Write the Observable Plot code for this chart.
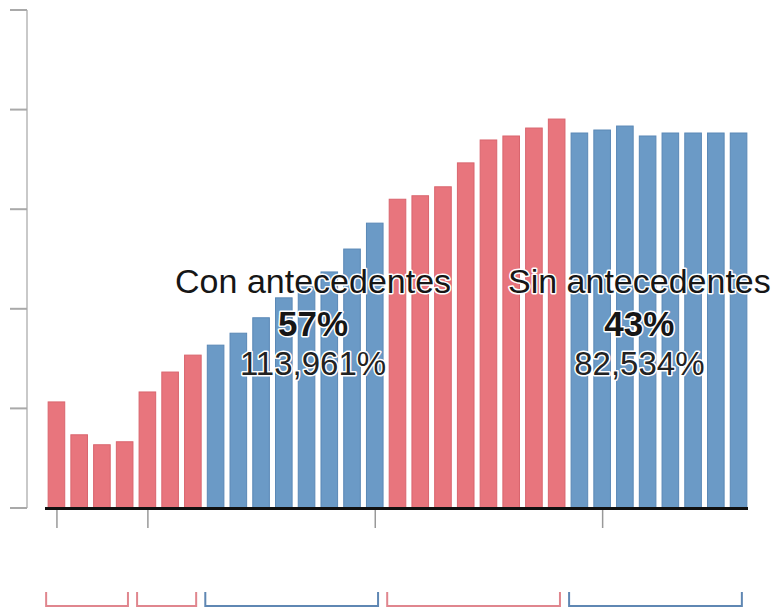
<!DOCTYPE html>
<html>
<head>
<meta charset="utf-8">
<script src="https://cdn.jsdelivr.net/npm/d3@7"></script>
<script src="https://cdn.jsdelivr.net/npm/@observablehq/plot@0.6"></script>
<style>
  html, body { margin: 0; padding: 0; background: #fff; }
  #chart { width: 775px; height: 611px; }
</style>
</head>
<body>
<div id="chart"></div>
<script>
// ---- Data ----
const bars = [1,2,3,4,5,6,7,8,9,10,11,12,13,14,15,16,17,18,19,20,21,22,23,24,25,26,27,28,29,30,31];
const values = [21.3,14.7,12.7,13.3,23.3,27.3,30.7,32.7,35.1,38.2,42.2,44.4,47.4,52.0,57.2,62.0,62.7,64.5,69.3,73.9,74.7,76.3,78.1,75.3,75.9,76.7,74.7,75.3,75.3,75.3,75.3];
const barGroup = [1,1,1,1,2,2,2,3,3,3,3,3,3,3,3,4,4,4,4,4,4,4,4,5,5,5,5,5,5,5,5];
const groupIds = [1,2,3,4,5];
const groupKind = ["con","con","sin","con","sin"];
const groupStart = [1,5,8,16,24];
const groupEnd = [4,7,15,23,31];
const yTicks = [0,20,40,60,80,100];
const xTicks = [1,5,15,25];

const labelBar = [12, 26];
const labelNames = ["Con antecedentes", "Sin antecedentes"];
const labelPct = ["57%", "43%"];
const labelValues = ["113,961%", "82,534%"];

// ---- Styles ----
const fillColor = {con: "#e8757d", sin: "#6b9ac6"};
const strokeColor = {con: "#d9656e", sin: "#5a88b6"};
const bracketColor = {con: "#e0868e", sin: "#5f87b3"};
const labelDx = [6, 14];

const rows = bars.map((b, i) => ({bar: b, value: values[i], kind: groupKind[barGroup[i] - 1]}));
const groups = groupIds.map((g, i) => ({start: groupStart[i], end: groupEnd[i], kind: groupKind[i]}));

// custom y axis: vertical rule left of the frame with ticks
function yAxisMark(index, scales, values, dims) {
  const y = scales.y;
  const x0 = dims.marginLeft - 15;
  const g = d3.create("svg:g");
  g.append("line")
    .attr("x1", x0).attr("x2", x0)
    .attr("y1", y(d3.max(yTicks))).attr("y2", y(0))
    .attr("stroke", "#c9c9c9").attr("stroke-width", 2);
  g.selectAll("line.t").data(yTicks).join("line").attr("class", "t")
    .attr("x1", x0 - 17).attr("x2", x0)
    .attr("y1", d => y(d)).attr("y2", d => y(d))
    .attr("stroke", "#a9a9a9").attr("stroke-width", 2);
  return g.node();
}

// brackets below the axis, one per group
function bracketMark(index, scales, values, dims) {
  const x = scales.x;
  const bw = x.bandwidth ? x.bandwidth() : 16;
  const base = scales.y(0);
  const yTop = base + 84, yBot = base + 98;
  const g = d3.create("svg:g").attr("fill", "none");
  for (const grp of groups) {
    const a = x(grp.start) - 2, b = x(grp.end) + bw - 5;
    g.append("path")
      .attr("d", `M${a},${yTop}V${yBot}H${b}V${yTop}`)
      .attr("stroke", bracketColor[grp.kind]).attr("stroke-width", 2);
  }
  return g.node();
}

const labelMarks = [];
labelBar.forEach((b, i) => {
  const common = {x: () => b, textAnchor: "middle", lineAnchor: "middle", dx: labelDx[i],
    fontFamily: "'Liberation Sans', Arial, sans-serif", fill: "#161616", stroke: "white", strokeWidth: 3};
  labelMarks.push(Plot.text([labelNames[i]], {...common, text: d => d, y: () => 45.4, fontSize: 34}));
  labelMarks.push(Plot.text([labelPct[i]], {...common, text: d => d, y: () => 36.8, fontSize: 35, fontWeight: "bold"}));
  labelMarks.push(Plot.text([labelValues[i]], {...common, text: d => d, y: () => 29.0, fontSize: 33, fill: "#222"}));
});

const chart = Plot.plot({
  width: 775,
  height: 611,
  marginLeft: 42,
  marginRight: 22,
  marginTop: 10,
  marginBottom: 103,
  style: {background: "#fff", overflow: "visible"},
  x: {type: "band", domain: bars, padding: 0.27, round: false, axis: null, label: null},
  y: {domain: [0, 100], axis: null},
  marks: [
    Plot.barY(rows, {
      x: "bar", y: "value",
      fill: d => fillColor[d.kind],
      stroke: d => strokeColor[d.kind],
      strokeWidth: 1
    }),
    yAxisMark,
    Plot.axisX({ticks: xTicks, tickSize: 20, tickFormat: () => "", label: null, stroke: "#999", strokeWidth: 1.5}),
    Plot.ruleY([0], {stroke: "#111", strokeWidth: 3, insetLeft: 3, insetRight: 5}),
    bracketMark,
    ...labelMarks
  ]
});
document.getElementById("chart").appendChild(chart);
</script>
</body>
</html>
